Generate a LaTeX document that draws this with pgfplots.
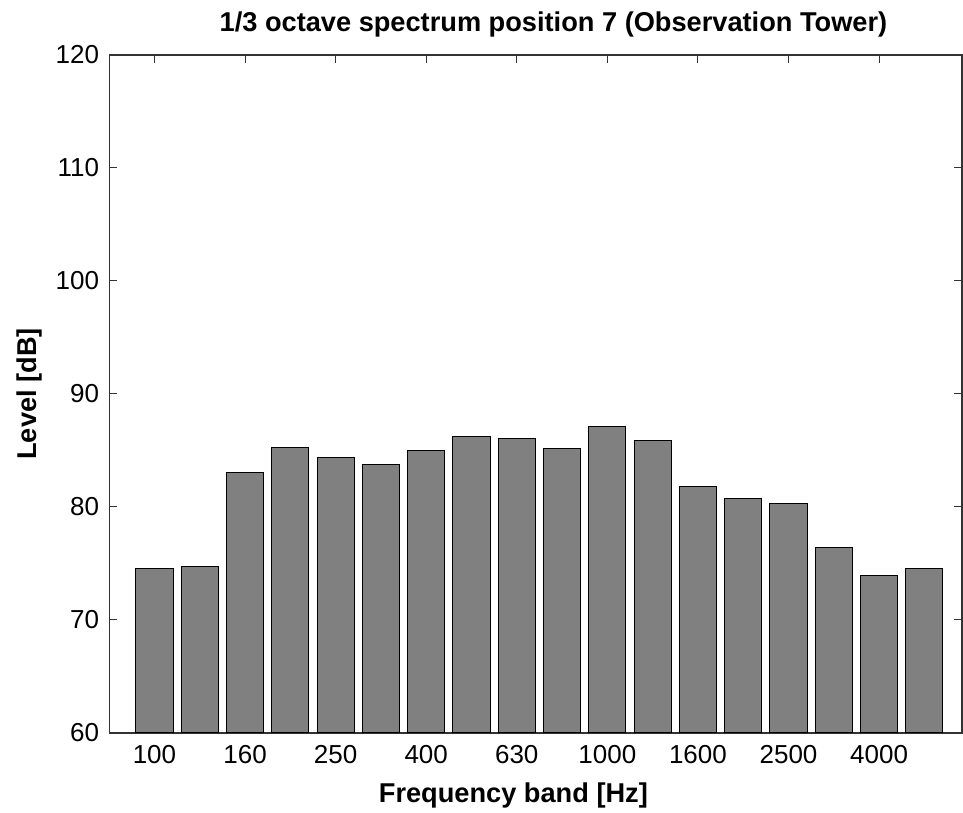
\documentclass[border=0pt]{standalone}
\usepackage{fontspec}
\setmainfont{Liberation Sans}
\usepackage{pgfplots}
\pgfplotsset{compat=1.18}

% 1/3 octave band levels, bands 100 Hz ... 5000 Hz at x = 1..18
\pgfplotstableread{
x level
1  74.56
2  74.73
3  83.03
4  85.30
5  84.36
6  83.80
7  84.98
8  86.21
9  86.03
10 85.15
11 87.09
12 85.86
13 81.80
14 80.77
15 80.30
16 76.42
17 73.95
18 74.56
}\spectrum

\begin{document}
\begin{tikzpicture}
\begin{axis}[
    scale only axis,
    width=426.4pt, height=339pt,
    xmin=0, xmax=18.83,
    ymin=60, ymax=120,
    ytick={60,70,...,120},
    xtick={1,3,5,7,9,11,13,15,17},
    xticklabels={100,160,250,400,630,1000,1600,2500,4000},
    tick align=inside,
    major tick length=4pt,
    axis line style={line width=0.6pt, black!80},
    every tick/.style={black!80, line width=0.5pt},
    tick label style={font=\fontsize{13}{15}\selectfont, black},
    /pgf/number format/assume math mode=true,
    xticklabel style={yshift=-2.5pt},
    yticklabel style={xshift=-1.5pt},
    title={1/3 octave spectrum position 7 (Observation Tower)},
    title style={at={(rel axis cs:0.521,1.0339)}, anchor=base, yshift=-6pt,
        font=\fontsize{13.6}{16}\selectfont\bfseries},
    xlabel={Frequency band [Hz]},
    xlabel style={at={(rel axis cs:0.474,-0.1018)}, anchor=base,
        font=\fontsize{13.6}{16}\selectfont\bfseries},
    ylabel={Level [dB]},
    ylabel style={at={(rel axis cs:-0.0848,0.5)}, anchor=base,
        font=\fontsize{13.6}{16}\selectfont\bfseries},
    clip=false,
]
\addplot[ybar, bar width=0.82, fill=gray, draw=black, line width=0.5pt]
    table[x=x, y=level] {\spectrum};
\coordinate (bl) at (rel axis cs:-0.128,-0.118);
\coordinate (tr) at (rel axis cs:1.0012,1.0811);
\end{axis}
\pgfresetboundingbox
\path[use as bounding box] (bl) rectangle (tr);
\end{tikzpicture}
\end{document}
